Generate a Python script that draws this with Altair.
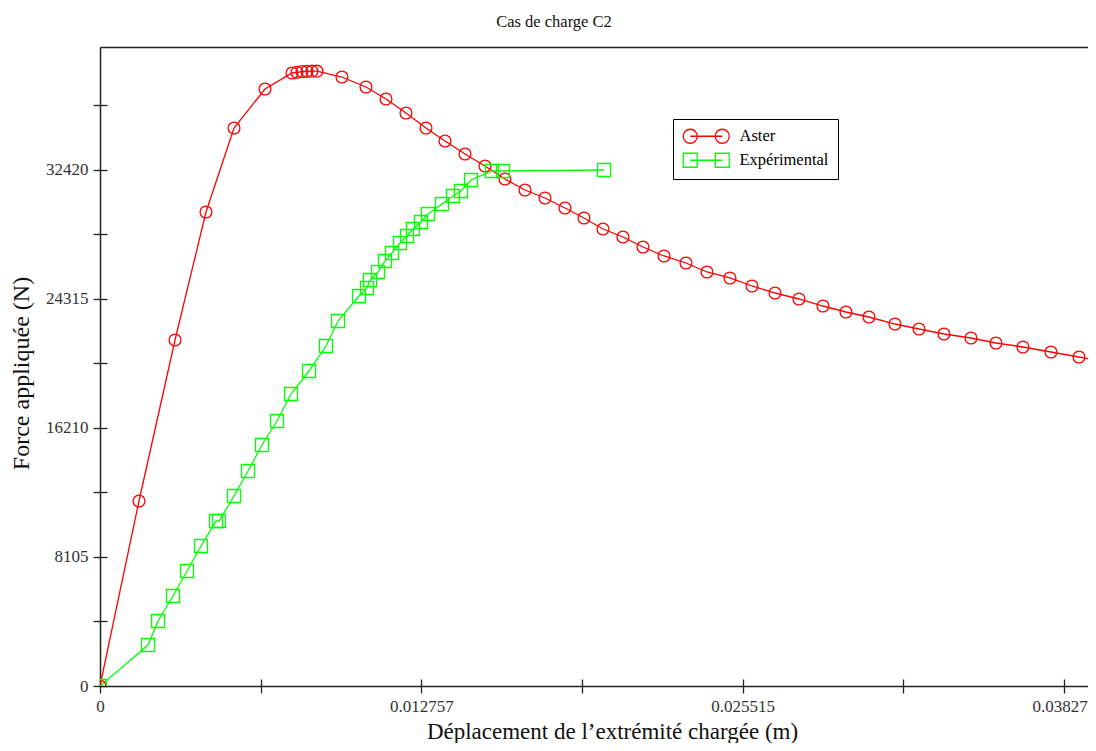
import altair as alt
import pandas as pd

# ---- data ----
series_names = ["Aster", "Expérimental"]
series_colors = ["#ff0000", "#00ff00"]

aster_x = [0, 0.001548, 0.002978, 0.004208, 0.005320, 0.006551, 0.007622, 0.007821,
           0.008019, 0.008218, 0.008416, 0.008615, 0.009607, 0.010560, 0.011354,
           0.012148, 0.012942, 0.013697, 0.014491, 0.015285, 0.016079, 0.016873,
           0.017667, 0.018461, 0.019215, 0.019969, 0.020763, 0.021557, 0.022391,
           0.023264, 0.024098, 0.025011, 0.025884, 0.026798, 0.027750, 0.028703,
           0.029616, 0.030529, 0.031562, 0.032514, 0.033507, 0.034579, 0.035571,
           0.036643, 0.037755, 0.038866, 0.039980]
aster_y = [0, 11624, 21739, 29781, 35059, 37510, 38515, 38560, 38600, 38620, 38630,
           38630, 38263, 37635, 36881, 36002, 35059, 34242, 33426, 32672, 31855,
           31164, 30661, 30033, 29404, 28713, 28211, 27582, 27017, 26577, 26012,
           25635, 25132, 24692, 24315, 23875, 23498, 23184, 22744, 22430, 22116,
           21865, 21551, 21299, 20985, 20671, 20357]

exp_x = [0, 0.001906, 0.002303, 0.002898, 0.003454, 0.004010, 0.004605, 0.004724,
         0.005320, 0.005876, 0.006431, 0.007027, 0.007583, 0.008297, 0.008972,
         0.009449, 0.010282, 0.010600, 0.010719, 0.011037, 0.011315, 0.011592,
         0.011910, 0.012188, 0.012426, 0.012744, 0.013022, 0.013577, 0.014014,
         0.014332, 0.014729, 0.015562, 0.015999, 0.020009]
exp_y = [0, 2576, 4084, 5655, 7225, 8796, 10367, 10367, 11938, 13508, 15142, 16650,
         18346, 19791, 21362, 22933, 24504, 25006, 25509, 26012, 26703, 27205,
         27834, 28274, 28713, 29153, 29656, 30284, 30787, 31101, 31792, 32357,
         32357, 32420]

x_tick_values = [0, 0.00637865, 0.0127573, 0.01913595, 0.0255146, 0.03189325, 0.0382719]
x_tick_labels = ["0", "", "0.012757", "", "0.025515", "", "0.038272"]
y_tick_values = [0, 4052.5, 8105, 12157.5, 16210, 20262.5, 24315, 28367.5, 32420, 36472.5]
y_tick_labels = ["0", "", "8105", "", "16210", "", "24315", "", "32420", ""]

x_domain = [0, 0.039225]
y_domain = [0, 40148]

title_text = "Cas de charge C2"
x_title = "Déplacement de l\u2019extrémité chargée (m)"
y_title = "Force appliquée (N)"

rows = []
for s, xs_, ys_ in ((0, aster_x, aster_y), (1, exp_x, exp_y)):
    for i, (xv, yv) in enumerate(zip(xs_, ys_)):
        rows.append({"x": xv, "y": yv, "series": series_names[s], "idx": i})
df = pd.DataFrame(rows)

FONT = "Liberation Serif"
AXC = "#222"


def label_expr(labels):
    arr = "[" + ",".join("'" + s + "'" for s in labels) + "]"
    n = len(labels) - 1
    return f"{arr}[round(datum.index*{n})]"


def circ(cx, r):
    k = 0.5523 * r
    f = lambda v: f"{v:.4f}"
    return (f"M{f(cx - r)},0C{f(cx - r)},{f(-k)} {f(cx - k)},{f(-r)} {f(cx)},{f(-r)}"
            f"C{f(cx + k)},{f(-r)} {f(cx + r)},{f(-k)} {f(cx + r)},0"
            f"C{f(cx + r)},{f(k)} {f(cx + k)},{f(r)} {f(cx)},{f(r)}"
            f"C{f(cx - k)},{f(r)} {f(cx - r)},{f(k)} {f(cx - r)},0Z")


def sq(cx, r):
    return f"M{cx - r:.4f},{-r:.4f}L{cx + r:.4f},{-r:.4f}L{cx + r:.4f},{r:.4f}L{cx - r:.4f},{r:.4f}Z"


# legend symbol paths (marker - line - marker), in symbol units of 7 px
LEG_R = 1.0
LEG_D = 4.571
P_CIRC = f"M0,0L{LEG_D},0" + circ(0, LEG_R) + circ(LEG_D, LEG_R)
P_SQ = f"M0,0L{LEG_D},0" + sq(0, LEG_R) + sq(LEG_D, LEG_R)

xs = alt.Scale(domain=x_domain, nice=False, zero=False)
ys = alt.Scale(domain=y_domain, nice=False, zero=False)
cs = alt.Scale(domain=series_names, range=series_colors)

x_outer = alt.Axis(values=x_tick_values, labelExpr=label_expr(x_tick_labels), orient="bottom",
                   tickSize=7, tickWidth=1.3, tickColor=AXC, domainColor=AXC, domainWidth=1.5,
                   labelFont=FONT, labelFontSize=17, labelColor="#333", labelPadding=5,
                   grid=False, title=x_title, titleFont=FONT, titleFontSize=23, titleFontWeight="normal",
                   titleColor="#111", titleX=512, titleY=52, titleBaseline="alphabetic", labelFlush=False,
                   labelOverlap=False)
y_outer = alt.Axis(values=y_tick_values, labelExpr=label_expr(y_tick_labels), orient="left",
                   tickSize=7, tickWidth=1.3, tickColor=AXC, domainColor=AXC, domainWidth=1.5,
                   labelFont=FONT, labelFontSize=17, labelColor="#333", labelPadding=5,
                   grid=False, title=y_title, titleFont=FONT, titleFontSize=24, titleFontWeight="normal",
                   titleColor="#111", titleX=-79, titleY=326, titleAngle=270, titleBaseline="middle",
                   labelOverlap=False)
x_inner = alt.Axis(values=x_tick_values, orient="bottom", offset=-7, tickSize=7, tickWidth=1.3,
                   tickColor=AXC, domain=False, labels=False, title=None, grid=False)
y_inner = alt.Axis(values=y_tick_values, orient="left", offset=-7, tickSize=7, tickWidth=1.3,
                   tickColor=AXC, domain=False, labels=False, title=None, grid=False)
x_top = alt.Axis(orient="top", ticks=False, labels=False, domain=True, domainColor=AXC, domainWidth=1.5,
                 title=None, grid=False)

legend = alt.Legend(
    title=None, orient="none", legendX=573, legendY=72,
    labelFont=FONT, labelFontSize=16.5, labelColor="black",
    strokeColor="black", fillColor="white", padding=9,
    symbolSize=196, symbolStrokeWidth=1.3, symbolOpacity=1, labelOffset=41, rowPadding=4,
)

base = alt.Chart(df)

lines = base.mark_line(strokeWidth=1.3, clip=True).encode(
    x=alt.X("x:Q", scale=xs, axis=x_outer),
    y=alt.Y("y:Q", scale=ys, axis=y_outer),
    color=alt.Color("series:N", scale=cs, legend=legend),
    order="idx:Q",
)

pts_aster = base.transform_filter(alt.datum.series == series_names[0]).mark_point(
    shape="circle", size=140, filled=False, strokeWidth=1.3, clip=True, opacity=1
).encode(
    x=alt.X("x:Q", scale=xs, axis=x_inner),
    y=alt.Y("y:Q", scale=ys, axis=y_inner),
    color=alt.Color("series:N", scale=cs, legend=legend),
)

pts_exp = base.transform_filter(alt.datum.series == series_names[1]).mark_point(
    shape="square", size=169, filled=False, strokeWidth=1.3, clip=True, opacity=1
).encode(
    x=alt.X("x:Q", scale=xs, axis=None),
    y=alt.Y("y:Q", scale=ys, axis=None),
    color=alt.Color("series:N", scale=cs, legend=legend),
)

# invisible layer that only carries the legend symbols and the top frame line
legend_layer = base.mark_point(filled=False, strokeWidth=1.3, opacity=0, clip=True).encode(
    x=alt.X("x:Q", scale=xs, axis=x_top),
    y=alt.Y("y:Q", scale=ys, axis=None),
    color=alt.Color("series:N", scale=cs, legend=legend),
    shape=alt.Shape("series:N", scale=alt.Scale(domain=series_names, range=[P_CIRC, P_SQ]), legend=legend),
)

chart = alt.layer(lines, pts_aster, pts_exp, legend_layer).resolve_axis(
    x="independent", y="independent"
).properties(
    width=988, height=639,
    title=alt.TitleParams(title_text, font=FONT, fontSize=16.5, fontWeight="normal", color="#111",
                          anchor="middle", dx=-40, offset=17),
    autosize=alt.AutoSizeParams(type="none"),
    padding={"left": 92, "top": 39, "right": 0, "bottom": 57},
).configure_view(stroke="transparent")

chart.save("out.html", embed_options={"renderer": "svg", "actions": False})
